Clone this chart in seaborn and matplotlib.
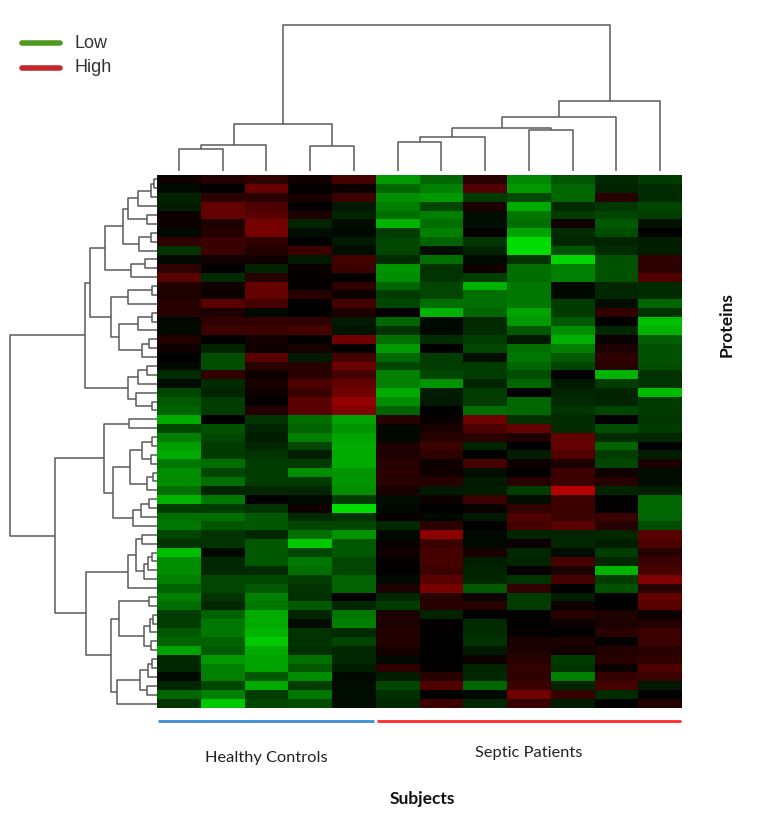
"""Protein expression clustermap: healthy controls vs septic patients."""

import matplotlib

matplotlib.use("Agg")
import matplotlib.pyplot as plt
import numpy as np
import pandas as pd
import seaborn as sns
from matplotlib.colors import LinearSegmentedColormap
from matplotlib.lines import Line2D

# --- data -------------------------------------------------------------------

groups = ["Healthy Controls"] * 5 + ["Septic Patients"] * 7
subjects = [f"S{i + 1}" for i in range(len(groups))]

# log-ratio expression, rows already in dendrogram leaf order
expression = [
    [0.2, 0.4, 0.55, 0.2, 0.8, -1.8, -1.2, 0.45, -1.6, -1.0, -0.45, -0.7],
    [-0.1, 0.0, 1.2, 0.05, 0.15, -1.2, -1.5, 0.95, -1.8, -1.2, -0.4, -0.5],
    [-0.4, 0.5, 0.5, 0.3, 0.7, -1.65, -1.8, -0.7, -0.85, -1.2, 0.45, -0.5],
    [-0.35, 1.15, 0.9, 0.05, -0.3, -1.5, -0.8, 0.35, -2.0, -0.5, -0.65, -0.8],
    [0.15, 1.15, 1.05, 0.35, -0.4, -1.3, -1.5, -0.15, -1.4, -0.7, -0.8, -0.7],
    [0.15, 0.35, 1.4, -0.4, -0.15, -2.1, -1.3, -0.15, -1.3, 0.2, -1.05, -0.2],
    [-0.1, 0.4, 1.4, -0.15, -0.1, -0.7, -1.5, 0.05, -1.9, -0.5, -0.9, 0.0],
    [0.55, 0.7, 0.55, 0.0, -0.3, -0.8, -1.15, -0.65, -2.6, -0.45, -0.4, -0.35],
    [-0.6, 0.7, 0.4, 0.7, -0.15, -0.8, -0.15, -0.4, -2.6, -0.95, -0.5, -0.35],
    [-0.1, 0.2, 0.2, -0.3, 0.8, -0.5, -1.3, -0.1, -0.6, -2.5, -0.95, 0.55],
    [0.55, 0.0, -0.4, 0.1, 0.7, -1.75, -0.6, 0.2, -1.3, -1.5, -0.95, 0.5],
    [1.05, -0.5, 0.45, 0.05, 0.05, -1.65, -0.6, -0.75, -1.3, -1.5, -0.95, 0.95],
    [0.4, 0.2, 1.15, 0.05, 0.55, -1.2, -0.8, -2.1, -1.4, -0.1, -0.45, -0.5],
    [0.35, 0.15, 1.15, 0.45, 0.15, -0.7, -0.8, -1.3, -1.4, -0.1, -0.45, -0.5],
    [0.45, 1.05, 0.8, 0.0, 0.8, -0.8, -1.3, -1.3, -1.4, -0.7, -0.15, -1.2],
    [0.45, 0.35, -0.1, 0.0, 0.35, 0.0, -2.1, -1.2, -1.9, -0.7, 0.6, -0.6],
    [-0.1, 0.55, 0.6, 0.55, -0.3, -1.2, -0.1, -0.45, -1.8, -1.05, 0.0, -2.25],
    [-0.1, 0.7, 0.7, 0.8, -0.25, -0.6, -0.1, -0.5, -1.05, -1.65, -0.45, -2.1],
    [0.4, 0.0, 0.25, 0.0, 1.3, -1.3, -0.5, -0.7, -0.3, -2.05, 0.1, -1.1],
    [0.2, -0.4, 0.2, 0.3, 0.05, -1.8, 0.0, -0.8, -1.3, -1.5, 0.35, -0.95],
    [0.0, -0.9, 1.05, -0.3, 0.8, -1.2, -0.7, -0.15, -1.4, -1.05, 0.55, -0.95],
    [-0.1, -0.9, 0.45, 0.45, 1.25, -0.8, -0.7, -0.7, -1.2, -0.8, 0.45, -0.9],
    [-0.5, 0.6, 0.15, 0.5, 0.8, -1.5, -0.8, -0.7, -0.9, 0.0, -2.1, -0.6],
    [-0.15, -0.5, 0.3, 0.9, 1.15, -1.5, -1.75, -0.4, -1.2, -0.3, -0.7, -0.6],
    [-0.8, -0.4, 0.15, 0.7, 1.3, -2.0, -0.35, -0.7, 0.0, -0.4, -0.4, -2.2],
    [-1.05, -0.7, 0.05, 1.05, 1.75, -1.65, -0.3, -0.7, -1.2, -0.5, -0.4, -0.7],
    [-1.15, -0.7, 0.4, 1.05, 1.5, -1.15, 0.0, -1.3, -1.2, -0.6, -0.8, -0.7],
    [-2.0, 0.0, -0.6, -1.3, -1.9, 0.45, 0.1, 1.3, -0.55, -0.5, 0.05, -0.65],
    [-0.8, -0.95, -0.4, -1.15, -1.75, -0.1, 0.3, 0.9, 1.15, -0.5, -0.9, -0.7],
    [-1.5, -0.8, -0.35, -1.5, -1.9, -0.1, 0.45, 0.5, 0.35, 1.15, -0.5, -0.45],
    [-1.85, -0.7, -0.45, -0.8, -2.0, 0.35, 0.7, -0.4, 0.0, 1.15, -1.15, 0.0],
    [-2.0, -0.7, -0.6, -0.35, -2.0, 0.35, 0.55, 0.0, -0.35, 0.95, -0.7, -0.35],
    [-1.4, -1.3, -0.7, -0.7, -2.0, 0.45, 0.15, 0.8, 0.15, 0.35, -0.8, 0.35],
    [-1.65, -0.8, -0.7, -1.65, -1.75, 0.5, 0.2, -0.15, 0.0, 0.7, 0.2, -0.15],
    [-1.65, -1.3, -0.7, -0.7, -1.75, 0.45, 0.45, -0.3, 0.45, 0.7, 0.45, -0.15],
    [-1.3, -0.4, -0.45, -0.45, -1.65, 0.3, -0.3, -0.35, -0.7, 2.1, -0.4, -0.35],
    [-2.1, -1.4, 0.0, -0.1, -0.7, -0.15, 0.15, 0.7, -0.15, 0.7, 0.0, -1.2],
    [-0.7, -0.7, -0.6, 0.2, -2.6, -0.1, 0.0, 0.1, 0.6, 0.7, 0.05, -1.2],
    [-1.3, -1.3, -1.05, -0.5, -0.6, 0.1, -0.1, -0.3, 0.95, 0.7, 0.7, -1.2],
    [-1.4, -1.0, -1.05, -0.8, -0.8, -0.45, 0.5, 0.0, 0.8, 1.05, 0.45, -0.9],
    [-0.8, -0.6, -0.45, -1.3, -1.75, -0.1, 1.65, -0.1, -0.4, -0.4, -0.45, 1.05],
    [-0.6, -0.6, -1.05, -2.35, -1.05, 0.1, 0.7, -0.1, 0.15, -0.45, -0.35, 0.9],
    [-2.25, -0.1, -1.05, -0.8, -1.05, 0.2, 0.8, 0.3, -0.45, -0.15, -0.7, 0.45],
    [-1.65, -0.45, -1.05, -1.4, -0.8, 0.05, 0.8, -0.35, -0.4, 0.8, -0.45, 0.7],
    [-1.65, -0.45, -0.5, -1.3, -0.8, 0.05, 0.7, -0.4, 0.05, 0.35, -2.1, 0.8],
    [-1.5, -0.8, -0.8, -0.7, -1.15, -0.1, 1.05, -0.45, -0.6, 0.8, -0.7, 1.5],
    [-1.15, -0.8, -1.05, -0.6, -1.15, 0.35, 1.4, -1.05, 0.6, 0.0, -0.95, 0.45],
    [-1.5, -0.6, -1.5, -0.55, 0.0, -0.45, 0.45, 0.15, -0.7, -0.35, 0.0, 1.15],
    [-1.3, -0.45, -1.4, -1.05, -0.45, -0.7, 0.45, 0.45, -0.7, 0.15, 0.0, 1.05],
    [-0.7, -1.15, -2.0, -0.4, -1.4, 0.35, -0.4, 0.0, 0.0, 0.45, 0.35, 0.15],
    [-0.7, -1.4, -2.0, -0.15, -1.5, 0.35, 0.05, -0.5, 0.0, 0.15, 0.35, 0.4],
    [-1.05, -1.4, -2.1, -0.6, -0.5, 0.4, 0.0, -0.5, 0.05, 0.0, 0.5, 0.7],
    [-1.15, -1.15, -2.35, -0.6, -0.8, 0.4, 0.0, -0.6, 0.3, 0.35, 0.05, 0.7],
    [-1.9, -1.05, -2.0, -0.55, -0.45, 0.3, 0.0, -0.3, 0.35, 0.2, 0.4, 0.45],
    [-0.45, -1.8, -1.9, -1.3, -0.45, -0.1, 0.0, 0.15, 0.45, -0.7, 0.45, 0.55],
    [-0.45, -1.5, -1.9, -1.05, -0.35, 0.55, 0.05, -0.4, 0.6, -0.6, 0.15, 0.9],
    [-0.1, -1.5, -1.05, -1.65, -0.1, -0.35, 0.45, -0.45, 0.55, -1.5, 0.6, 0.7],
    [-0.45, -0.8, -2.0, -0.7, -0.15, -0.8, 0.95, -1.2, 0.7, -0.4, 0.8, -0.3],
    [-1.2, -1.5, -0.7, -1.4, -0.15, -0.55, 0.0, -0.1, 1.3, 0.6, -0.5, 0.0],
    [-0.6, -2.35, -0.8, -0.9, -0.15, -0.45, 0.7, -0.45, 0.65, -0.35, 0.0, 0.4],
]

# dendrograms as nested (left, right, height); ints are leaf indices
col_tree = (
    (((0, 1, 65), 2, 78), (3, 4, 75), 140),
    (((((5, 6, 87), 7, 102), (8, 9, 123), 127), 10, 162), 11, 210),
    435,
)

row_upper = (
    (
        (
            (
                ((((0, 1, 3), 2, 6), 3, 19), (4, 5, 10), 29),
                ((6, 7, 6), 8, 18),
                34.5,
            ),
            ((9, 10, 12), 11, 26),
            52,
        ),
        (
            ((12, 13, 5), 14, 29),
            (((15, 16, 5), 17, 19), ((18, 19, 8), 20, 15), 38),
            46.5,
        ),
        67,
    ),
    (((21, 22, 10), 23, 19), (24, (25, 26, 5), 21), 29),
    72,
)
row_lower = (
    (
        (27, 28, 27.6),
        (
            (((29, 30, 5), (31, 32, 6), 15), ((33, 34, 4), 35, 10), 27),
            (((36, 37, 8), 38, 16), 39, 24),
            44,
        ),
        53.5,
    ),
    (
        (((40, 41, 15), (((42, 43, 5), 44, 9), 45, 13), 21), 46, 29),
        (
            ((47, 48, 8), (((49, 50, 4), 51, 7), (52, 53, 6), 13), 38),
            ((((54, 55, 5), 56, 9), (57, 58, 10), 17), 59, 40),
            46.5,
        ),
        70.7,
    ),
    102,
)
row_tree = (row_upper, row_lower, 147)

legend_labels = ["Low", "High"]
legend_colors = ["#4f9a1e", "#c4282c"]
group_colors = {"Healthy Controls": "#3a8ddb", "Septic Patients": "#ff2a2a"}


def draw_tree(ax, node, vertical):
    """Draw a dendrogram branch recursively, return (position, height)."""
    if isinstance(node, int):
        return node + 0.5, 0.0
    left, right, h = node
    p1, h1 = draw_tree(ax, left, vertical)
    p2, h2 = draw_tree(ax, right, vertical)
    pos = [p1, p1, p2, p2]
    hgt = [h1, h, h, h2]
    if vertical:
        ax.plot(pos, hgt, color="#5a5a5a", lw=1.1, clip_on=False, solid_capstyle="butt")
    else:
        ax.plot(hgt, pos, color="#5a5a5a", lw=1.1, clip_on=False, solid_capstyle="butt")
    return (p1 + p2) / 2, h


# --- figure -----------------------------------------------------------------

W, H = 768, 823
fig = plt.figure(figsize=(W / 100, H / 100), dpi=100)
fig.patch.set_facecolor("white")


def frac(x0, y0, x1, y1):
    return [x0 / W, 1 - y1 / H, (x1 - x0) / W, (y1 - y0) / H]


df = pd.DataFrame(np.array(expression), columns=subjects)
cmap = LinearSegmentedColormap.from_list("gkr", [(0, 1, 0), (0, 0, 0), (1, 0, 0)])

ax_hm = fig.add_axes(frac(157, 175, 682, 708))
sns.heatmap(df, cmap=cmap, vmin=-3, vmax=3, cbar=False, ax=ax_hm,
            xticklabels=False, yticklabels=False)
ax_hm.set_xlabel("")
ax_hm.set_ylabel("")

# column dendrogram
ax_col = fig.add_axes(frac(157, 25, 682, 171))
draw_tree(ax_col, col_tree, vertical=True)
ax_col.set_xlim(0, len(subjects))
ax_col.set_ylim(0, col_tree[2])
ax_col.axis("off")

# row dendrogram
ax_row = fig.add_axes(frac(10, 175, 157, 708))
draw_tree(ax_row, row_tree, vertical=False)
ax_row.set_xlim(row_tree[2], 0)
ax_row.set_ylim(len(expression), 0)
ax_row.axis("off")

# group bars under the heatmap
ax_grp = fig.add_axes(frac(157, 712, 682, 730))
start = 0
for name in dict.fromkeys(groups):
    n = groups.count(name)
    ax_grp.plot([start + 0.03, start + n - 0.03], [0.5, 0.5],
                color=group_colors[name], lw=2.0, solid_capstyle="butt")
    ax_grp.text(start + n / 2, -1.55 if name.startswith("Healthy") else -1.3,
                name, ha="center", va="center", fontsize=11.8,
                family="Lato", color="#222222")
    start += n
ax_grp.set_xlim(0, len(groups))
ax_grp.set_ylim(0, 1)
ax_grp.axis("off")

fig.text(422 / W, 1 - 799 / H, "Subjects", ha="center", va="center",
         fontsize=12.5, fontweight="bold", family="Lato", color="#111111")
fig.text(727 / W, 1 - 325 / H, "Proteins", ha="center", va="center",
         rotation=90, fontsize=12.5, fontweight="bold", family="Lato",
         color="#111111")

# legend for the colour scale
for i, (label, color) in enumerate(zip(legend_labels, legend_colors)):
    y = 1 - (43 + 25 * i) / H
    fig.add_artist(Line2D([22 / W, 60 / W], [y, y], color=color, lw=4.0,
                          solid_capstyle="round"))
    fig.text(75 / W, y, label, ha="left", va="center", fontsize=13,
             family="Liberation Sans", color="#333333")

fig.savefig("out.png", dpi=100)
